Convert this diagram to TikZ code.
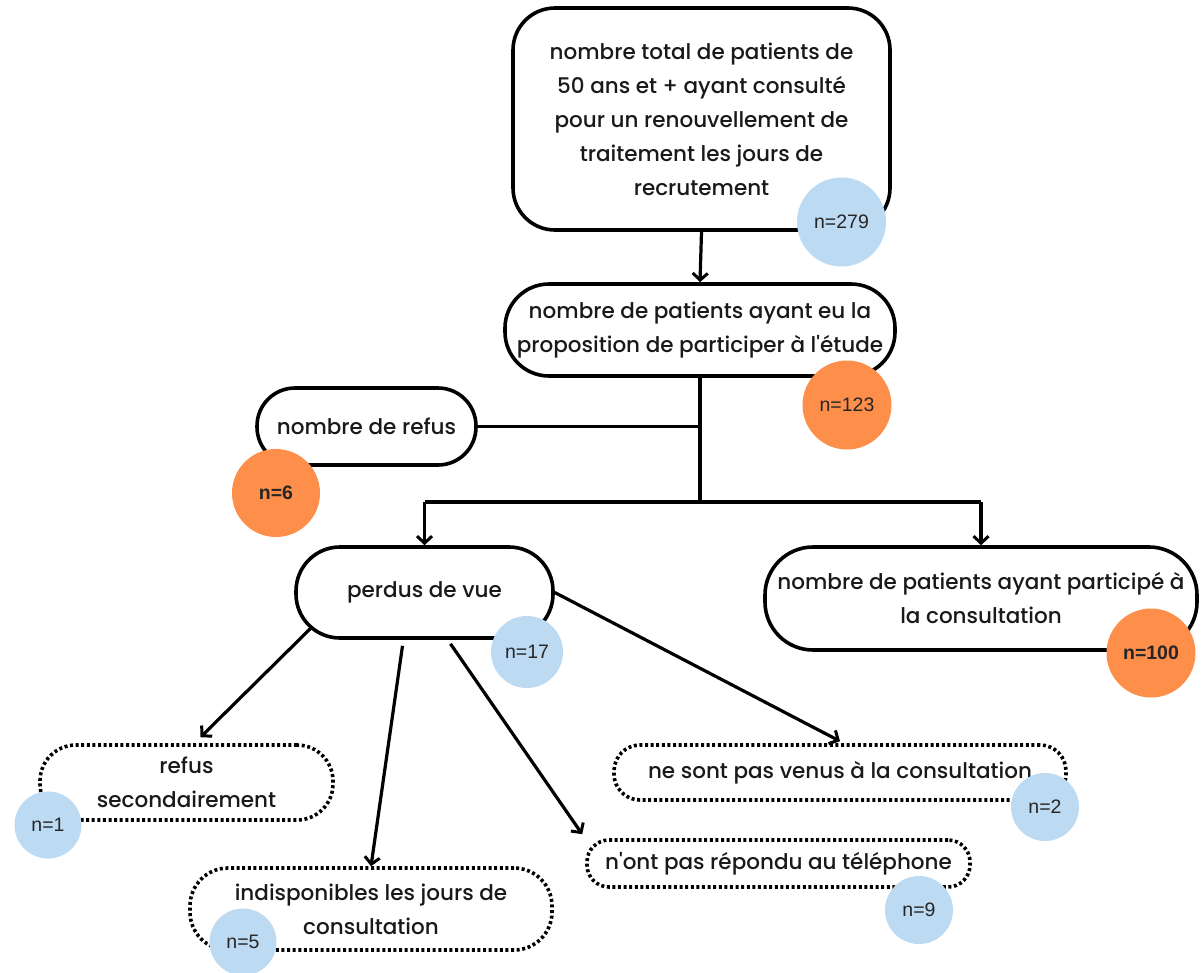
\documentclass[tikz,border=0pt]{standalone}
\usepackage{fontspec}
\setmainfont{Poppins}[UprightFont=* Medium, BoldFont=* SemiBold]
\newfontfamily\bullefont{Liberation Sans}
\usetikzlibrary{arrows.meta}
\definecolor{ciel}{RGB}{189,218,243}
\definecolor{orangec}{RGB}{253,143,75}
\tikzset{
  boite/.style={draw, line width=3.6pt, align=center, inner sep=0pt, text=black!90,
    font=\fontsize{21.5}{34}\selectfont},
  pointille/.style={boite, dash pattern=on 3pt off 2.6pt},
  bulle/.style={circle, fill=ciel, inner sep=0pt, text=black!85,
    font=\bullefont\fontsize{19.5}{22}\selectfont},
  bulleor/.style={bulle, fill=orangec},
  bullegras/.style={bulleor, font=\bullefont\bfseries\fontsize{19.5}{22}\selectfont},
  trait/.style={line width=3.2pt},
  fleche/.style={trait, -{Straight Barb[length=7pt,width=15pt,line width=3pt]}},
}
\begin{document}
\begin{tikzpicture}[x=1pt, y=-1pt]
\useasboundingbox (0,0) rectangle (1204,972);
% boites principales
\node[boite, minimum width=377pt, minimum height=222pt, rounded corners=42pt] (total) at (701.5,119)
  {nombre total de patients de\\50 ans et + ayant consulté\\pour un renouvellement de\\traitement les jours de\\recrutement};
\node[boite, minimum width=390pt, minimum height=92pt, rounded corners=44pt] (propo) at (700,330)
  {nombre de patients ayant eu la\\proposition de participer à l\textquotesingle étude};
\node[boite, minimum width=219pt, minimum height=77pt, rounded corners=38pt] (refus) at (366.5,426.5)
  {nombre de refus};
\node[boite, minimum width=257pt, minimum height=91pt, rounded corners=44pt] (perdus) at (424.5,592.5)
  {perdus de vue};
\node[boite, minimum width=432pt, minimum height=103pt, rounded corners=48pt] (particip) at (981,598.5)
  {nombre de patients ayant participé à\\la consultation};
% boites en pointille
\node[pointille, minimum width=293pt, minimum height=75pt, rounded corners=36pt] (d1) at (186.5,782.5)
  {refus\\secondairement};
\node[pointille, minimum width=362pt, minimum height=82pt, rounded corners=38pt] (d2) at (371,909)
  {indisponibles les jours de\\consultation};
\node[pointille, minimum width=452pt, minimum height=55pt, rounded corners=26pt] (d3) at (840,772.5)
  {ne sont pas venus à la consultation};
\node[pointille, minimum width=383pt, minimum height=47pt, rounded corners=22pt] (d4) at (778.5,863.5)
  {n\textquotesingle ont pas répondu au téléphone};
% liaisons
\coordinate (jonc) at (697,502);
\draw[fleche] (total.south) -- (propo.north);
\draw[trait] (propo.south) -- (propo.south |- jonc);
\draw[trait] (refus.east) -- (refus.east -| propo.south);
\draw[trait] (perdus.north |- jonc) -- (particip.north |- jonc);
\draw[fleche] (perdus.north |- jonc) -- (perdus.north);
\draw[fleche] (particip.north |- jonc) -- (particip.north);
\draw[fleche] ([xshift=17pt,yshift=12pt]perdus.south west) -- ([xshift=14pt,yshift=6pt]d1.north);
\draw[fleche] ([xshift=-22pt,yshift=-6pt]perdus.south) -- (d2.north);
\draw[fleche] ([xshift=26pt,yshift=-4pt]perdus.south) -- ([xshift=-3pt,yshift=4pt]d4.north west);
\draw[fleche] (perdus.east) -- ([yshift=2pt]d3.north);
% effectifs
\node[bulle, minimum size=89pt] (n279) at (841.5,222) {n=279};
\node[bulleor, minimum size=89pt] (n123) at (847,405) {n=123};
\node[bullegras, minimum size=88pt] (n6) at (276,493) {n=6};
\node[bulle, minimum size=72pt] (n17) at (527,652) {n=17};
\node[bullegras, minimum size=89pt] (n100) at (1151,653) {n=100};
\node[bulle, minimum size=67pt] (n1) at (48,825) {n=1};
\node[bulle, minimum size=67pt] (n5) at (243,942) {n=5};
\node[bulle, minimum size=68pt] (n2) at (1045,807) {n=2};
\node[bulle, minimum size=68pt] (n9) at (919,910) {n=9};
\end{tikzpicture}
\end{document}
